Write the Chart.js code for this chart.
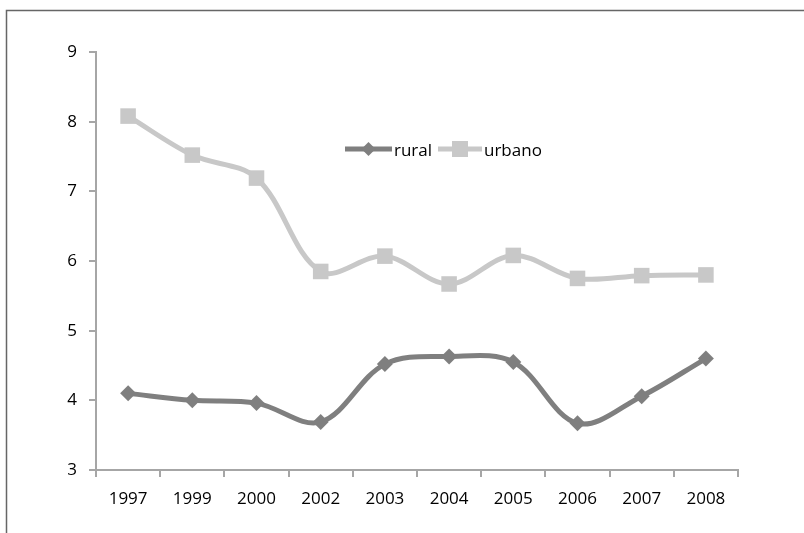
<!DOCTYPE html>
<html>
<head>
<meta charset="utf-8">
<script src="https://cdn.jsdelivr.net/npm/chart.js@4"></script>
<style>
  html, body { margin: 0; padding: 0; background: #fff; }
  #wrap { width: 804px; height: 533px; position: relative; }
</style>
</head>
<body>
<div id="wrap"><canvas id="c" width="804" height="533"></canvas></div>
<script>
// Years on the category axis
const years = ['1997', '1999', '2000', '2002', '2003', '2004', '2005', '2006', '2007', '2008'];
// Series values
const rural  = [4.10, 4.00, 3.96, 3.69, 4.52, 4.63, 4.55, 3.67, 4.06, 4.60];
const urbano = [8.08, 7.52, 7.19, 5.85, 6.07, 5.67, 6.08, 5.75, 5.79, 5.80];
// Value axis range
const yMin = 3, yMax = 9, yStep = 1;

const RURAL_COLOR = '#7f7f7f';
const URBANO_COLOR = '#c8c8c8';
const AXIS_COLOR = '#a6a6a6';
const FONT = "'Open Sans', 'Noto Sans', sans-serif";

// Outer frame and in-plot legend
const decor = {
  id: 'decor',
  afterDraw(chart) {
    const ctx = chart.ctx;
    ctx.save();
    ctx.strokeStyle = '#666666';
    ctx.lineWidth = 1.5;
    ctx.beginPath();
    ctx.moveTo(6.5, 900);
    ctx.lineTo(6.5, 10.5);
    ctx.lineTo(900, 10.5);
    ctx.stroke();

    // legend entries: line with marker, then label
    const y = 149;
    const items = [
      { x: 345, w: 47, color: RURAL_COLOR, shape: 'diamond', text: 'rural' },
      { x: 438, w: 44, color: URBANO_COLOR, shape: 'square', text: 'urbano' }
    ];
    ctx.font = "17px " + FONT;
    ctx.textBaseline = 'middle';
    items.forEach(it => {
      ctx.strokeStyle = it.color;
      ctx.lineWidth = 5;
      ctx.beginPath();
      ctx.moveTo(it.x, y);
      ctx.lineTo(it.x + it.w, y);
      ctx.stroke();
      const cx = it.x + it.w / 2;
      ctx.fillStyle = it.color;
      ctx.beginPath();
      if (it.shape === 'diamond') {
        ctx.moveTo(cx, y - 7); ctx.lineTo(cx + 7, y); ctx.lineTo(cx, y + 7); ctx.lineTo(cx - 7, y);
      } else {
        ctx.rect(cx - 8, y - 8, 16, 16);
      }
      ctx.closePath();
      ctx.fill();
      ctx.fillStyle = '#000';
      ctx.fillText(it.text, it.x + it.w + 2, y + 2);
    });
    ctx.restore();
  }
};

new Chart(document.getElementById('c'), {
  type: 'line',
  data: {
    labels: years,
    datasets: [
      {
        label: 'rural', data: rural,
        borderColor: RURAL_COLOR, backgroundColor: RURAL_COLOR,
        borderWidth: 5, tension: 0.35,
        pointStyle: 'rectRot', pointRadius: 8, pointBorderWidth: 0,
        pointBackgroundColor: RURAL_COLOR
      },
      {
        label: 'urbano', data: urbano,
        borderColor: URBANO_COLOR, backgroundColor: URBANO_COLOR,
        borderWidth: 5, tension: 0.35,
        pointStyle: 'rect', pointRadius: 11, pointBorderWidth: 0,
        pointBackgroundColor: URBANO_COLOR
      }
    ]
  },
  options: {
    responsive: false,
    animation: false,
    events: [],
    layout: { padding: { left: 0, top: 52, right: 66, bottom: 0 } },
    plugins: { legend: { display: false }, tooltip: { enabled: false } },
    scales: {
      x: {
        offset: true,
        grid: { display: true, offset: true, drawOnChartArea: false, color: AXIS_COLOR, lineWidth: 2, tickLength: 7 },
        border: { display: true, color: AXIS_COLOR, width: 2 },
        ticks: { color: '#000', font: { family: FONT, size: 17 }, padding: 12, maxRotation: 0 },
        afterFit(s) { s.height = 63; }
      },
      y: {
        min: yMin, max: yMax,
        grid: { display: true, drawOnChartArea: false, color: AXIS_COLOR, lineWidth: 2, tickLength: 7 },
        border: { display: true, color: AXIS_COLOR, width: 2 },
        ticks: { stepSize: yStep, color: '#000', font: { family: FONT, size: 17 }, padding: 12 },
        afterFit(s) { s.width = 96; }
      }
    }
  },
  plugins: [decor]
});
</script>
</body>
</html>
